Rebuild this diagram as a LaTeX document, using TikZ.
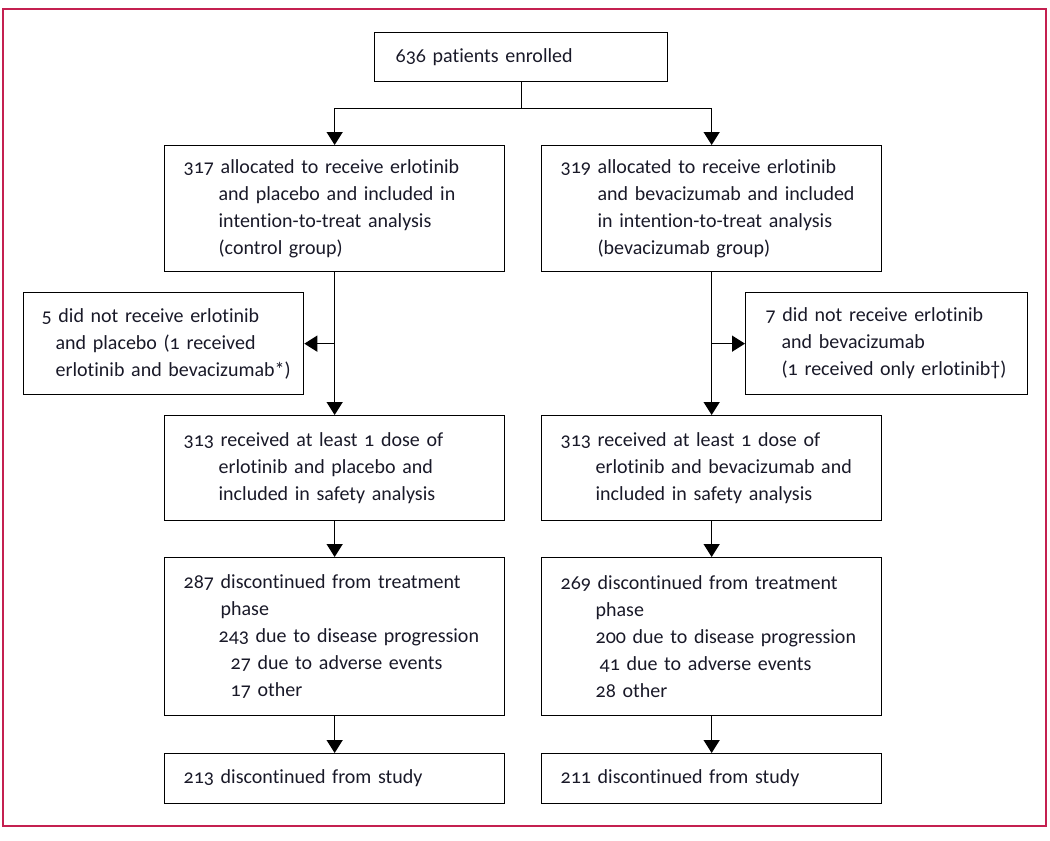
\documentclass[tikz,border=0pt]{standalone}
\usepackage{fontspec}
\setmainfont[Numbers=OldStyle, Ligatures=CommonOff]{Carlito}
\usetikzlibrary{arrows.meta}
\definecolor{frameRed}{RGB}{196,32,80}
\definecolor{inkText}{RGB}{25,25,40}
\tikzset{
  box/.style={draw, line width=1.3pt, anchor=north west, align=left,
    inner xsep=19pt, inner ysep=0pt, text=inkText,
    font=\fontsize{20}{27}\selectfont},
  flow/.style={line width=1.3pt, -{Triangle[width=16pt,length=13pt]}},
  link/.style={line width=1.3pt},
}
\begin{document}
\begin{tikzpicture}[x=1pt,y=-1pt]%
\useasboundingbox (0,0) rectangle (1050,841);%
\draw[frameRed, line width=2pt] (3,9) rectangle (1046,826);%
%
% enrolment
\node[box, inner xsep=21pt, text width=251pt, minimum height=49pt] (enrol) at (374,32) {636 patients enrolled};%
%
% control arm
\node[box, text width=302pt, minimum height=126pt] (alloc1) at (164,145)
  {317 allocated to receive erlotinib\\
   \hspace*{35pt}and placebo and included in\\
   \hspace*{35pt}intention-to-treat analysis\\
   \hspace*{35pt}(control group)};%
\node[box, inner xsep=18pt, text width=244pt, minimum height=102pt] (excl1) at (23,292)
  {\mbox{5 did not receive erlotinib}\\
   \mbox{\hspace*{14pt}and placebo (1 received}\\
   \mbox{\hspace*{14pt}erlotinib and bevacizumab*)}};%
\node[box, text width=302pt, minimum height=105pt] (safe1) at (164,415)
  {313 received at least 1 dose of\\
   \hspace*{35pt}erlotinib and placebo and\\
   \hspace*{35pt}included in safety analysis};%
\node[box, text width=302pt, minimum height=158pt] (disc1) at (164,557)
  {287 discontinued from treatment\\
   \hspace*{37pt}phase\\
   \hspace*{35pt}243 due to disease progression\\
   \hspace*{47pt}27 due to adverse events\\
   \hspace*{47pt}17 other};%
\node[box, text width=302pt, minimum height=50pt] (stud1) at (164,753) {213 discontinued from study};%
%
% bevacizumab arm
\node[box, text width=302pt, minimum height=126pt] (alloc2) at (541,145)
  {319 allocated to receive erlotinib\\
   \hspace*{37pt}and bevacizumab and included\\
   \hspace*{37pt}in intention-to-treat analysis\\
   \hspace*{37pt}(bevacizumab group)};%
\node[box, inner xsep=20pt, text width=242pt, minimum height=102pt] (excl2) at (745,292)
  {\mbox{7 did not receive erlotinib}\\
   \mbox{\hspace*{16pt}and bevacizumab}\\
   \mbox{\hspace*{16pt}(1 received only erlotinib†)}};%
\node[box, text width=302pt, minimum height=105pt] (safe2) at (541,415)
  {313 received at least 1 dose of\\
   \hspace*{35pt}erlotinib and bevacizumab and\\
   \hspace*{35pt}included in safety analysis};%
\node[box, text width=302pt, minimum height=158pt] (disc2) at (541,557)
  {269 discontinued from treatment\\
   \hspace*{35pt}phase\\
   \hspace*{35pt}200 due to disease progression\\
   \hspace*{39pt}41 due to adverse events\\
   \hspace*{35pt}28 other};%
\node[box, text width=302pt, minimum height=50pt] (stud2) at (541,753) {211 discontinued from study};%
%
% connectors
\coordinate (split) at ([yshift=-26pt]enrol.south);%
\draw[link] (enrol.south) -- (split);%
\draw[flow] (split) -| (alloc1.north);%
\draw[flow] (split) -| (alloc2.north);%
\draw[flow] (alloc1.south) -- (safe1.north);%
\draw[flow] (alloc1.south |- excl1.east) -- (excl1.east);%
\draw[flow] (alloc2.south) -- (safe2.north);%
\draw[flow] (alloc2.south |- excl2.west) -- (excl2.west);%
\draw[flow] (safe1.south) -- (disc1.north);%
\draw[flow] (safe2.south) -- (disc2.north);%
\draw[flow] (disc1.south) -- (stud1.north);%
\draw[flow] (disc2.south) -- (stud2.north);%
%
\end{tikzpicture}
\end{document}
